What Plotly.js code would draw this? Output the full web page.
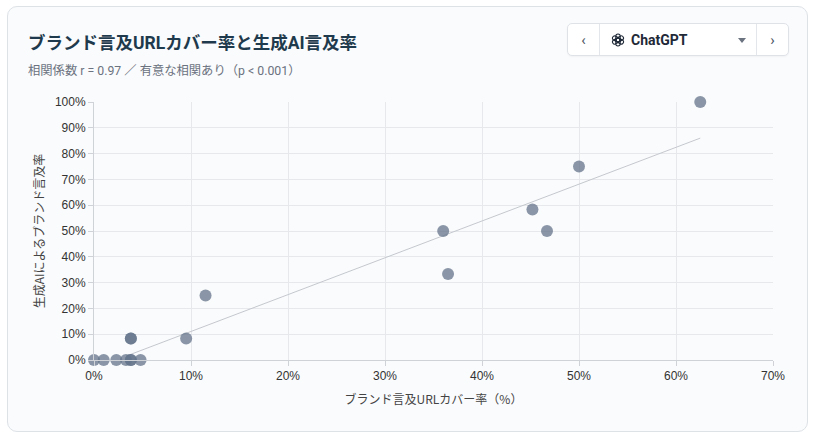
<!DOCTYPE html>
<html lang="ja">
<head>
<meta charset="utf-8">
<script src="https://cdn.plot.ly/plotly-3.0.1.min.js"></script>
<style>
  html, body { margin: 0; padding: 0; background: #ffffff; width: 815px; height: 439px; overflow: hidden; }
  body { font-family: Roboto, "Noto Sans CJK JP", sans-serif; }
  .card {
    position: absolute; left: 7px; top: 6px; width: 801px; height: 426px;
    background: #fafbfc; border: 1px solid #dde2e7; border-radius: 10px; box-sizing: border-box;
  }
  .title { position: absolute; left: 20px; top: 22px; font-size: 17.5px; font-weight: 700; color: #1e3a4c; }
  .subtitle { position: absolute; left: 20px; top: 54px; font-size: 12.3px; color: #6b7280; }
  #chart { position: absolute; left: 0; top: 0; width: 815px; height: 439px; }
  .picker {
    position: absolute; left: 559px; top: 16px; width: 222px; height: 33px;
    background: #ffffff; border: 1px solid #dfe3e8; border-radius: 5px; box-sizing: border-box;
    display: flex; align-items: stretch; box-shadow: 0 1px 2px rgba(0,0,0,0.04);
  }
  .picker .btn { width: 31px; display: flex; align-items: center; justify-content: center; color: #4b5563; font-size: 15px; }
  .picker .btn.l { border-right: 1px solid #e3e6ea; }
  .picker .btn.r { border-left: 1px solid #e3e6ea; }
  .picker .mid { flex: 1; display: flex; align-items: center; padding-left: 11px; position: relative; }
  .picker .name { font-size: 14px; font-weight: 700; color: #1f2937; margin-left: 6px; }
  .picker .caret { position: absolute; right: 10px; top: 14px; width: 0; height: 0;
    border-left: 4px solid transparent; border-right: 4px solid transparent; border-top: 5px solid #6b7280; }
</style>
</head>
<body>
<div class="card">
  <div class="title">ブランド言及URLカバー率と生成AI言及率</div>
  <div class="subtitle">相関係数 r = 0.97 ／ 有意な相関あり（p &lt; 0.001）</div>
  <div class="picker">
    <div class="btn l">&#8249;</div>
    <div class="mid">
      <svg width="14" height="14" viewBox="-7 -7 14 14">
        <g fill="none" stroke="#1f2937" stroke-width="1.1">
          <rect x="-2.2" y="-6" width="4.4" height="8" rx="2.2" transform="rotate(0)"/>
          <rect x="-2.2" y="-6" width="4.4" height="8" rx="2.2" transform="rotate(60)"/>
          <rect x="-2.2" y="-6" width="4.4" height="8" rx="2.2" transform="rotate(120)"/>
          <rect x="-2.2" y="-6" width="4.4" height="8" rx="2.2" transform="rotate(180)"/>
          <rect x="-2.2" y="-6" width="4.4" height="8" rx="2.2" transform="rotate(240)"/>
          <rect x="-2.2" y="-6" width="4.4" height="8" rx="2.2" transform="rotate(300)"/>
        </g>
      </svg>
      <span class="name">ChatGPT</span>
      <span class="caret"></span>
    </div>
    <div class="btn r">&#8250;</div>
  </div>
</div>
<div id="chart"></div>
<script>
// URL coverage (%) vs AI mention rate (%) per brand
const urlCoverage = [0, 1.0, 2.3, 3.3, 3.8, 3.8, 4.8, 3.8, 3.8, 9.5, 11.5, 36.0, 36.5, 45.2, 46.7, 50.0, 62.5];
const mentionRate = [0, 0, 0, 0, 0, 0, 0, 8.3, 8.3, 8.3, 25.0, 50.0, 33.3, 58.3, 50.0, 75.0, 100.0];

// regression line end points as drawn
const trendX = [3.3, 62.5];
const trendY = [1.5, 86.0];

const xTicks = [0, 10, 20, 30, 40, 50, 60, 70];
const xTickText = ['0%', '10%', '20%', '30%', '40%', '50%', '60%', '70%'];
const yTicks = [0, 10, 20, 30, 40, 50, 60, 70, 80, 90, 100];
const yTickText = ['0%', '10%', '20%', '30%', '40%', '50%', '60%', '70%', '80%', '90%', '100%'];

const fontFamily = '"Noto Sans CJK JP", sans-serif';
const tickFamily = '"Liberation Sans", Arial, sans-serif';

const trendTrace = {
    x: trendX,
    y: trendY,
    mode: 'lines',
    type: 'scatter',
    hoverinfo: 'skip',
    line: { color: '#c4c8ce', width: 1 }
};

const pointTrace = {
    x: urlCoverage,
    y: mentionRate,
    mode: 'markers',
    type: 'scatter',
    cliponaxis: false,
    marker: { color: '#64748b', size: 12, opacity: 0.75, line: { width: 0 } }
};

const axisBase = {
    showgrid: true,
    gridcolor: '#e6e8ec',
    gridwidth: 1,
    zeroline: false,
    showline: true,
    linecolor: '#cfd3d8',
    linewidth: 1,
    ticks: 'outside',
    ticklen: 5,
    tickcolor: '#cfd3d8',
    tickmode: 'array',
    tickfont: { family: tickFamily, size: 12, color: '#333333' },
    fixedrange: true
};

const layout = {
    width: 815,
    height: 439,
    paper_bgcolor: 'rgba(0,0,0,0)',
    plot_bgcolor: 'rgba(0,0,0,0)',
    margin: { l: 94, r: 42, t: 102, b: 79 },
    showlegend: false,
    font: { family: fontFamily },
    xaxis: Object.assign({}, axisBase, {
        range: [0, 70],
        tickvals: xTicks,
        ticktext: xTickText,
        title: { text: 'ブランド言及URLカバー率（%）', standoff: 13,
                 font: { family: fontFamily, size: 12, color: '#444444' } }
    }),
    yaxis: Object.assign({}, axisBase, {
        range: [0, 100],
        tickvals: yTicks,
        ticktext: yTickText,
        title: { text: '生成AIによるブランド言及率', standoff: 7,
                 font: { family: fontFamily, size: 12, color: '#444444' } }
    })
};

Plotly.newPlot('chart', [trendTrace, pointTrace], layout, { displayModeBar: false, staticPlot: true });
</script>
</body>
</html>
